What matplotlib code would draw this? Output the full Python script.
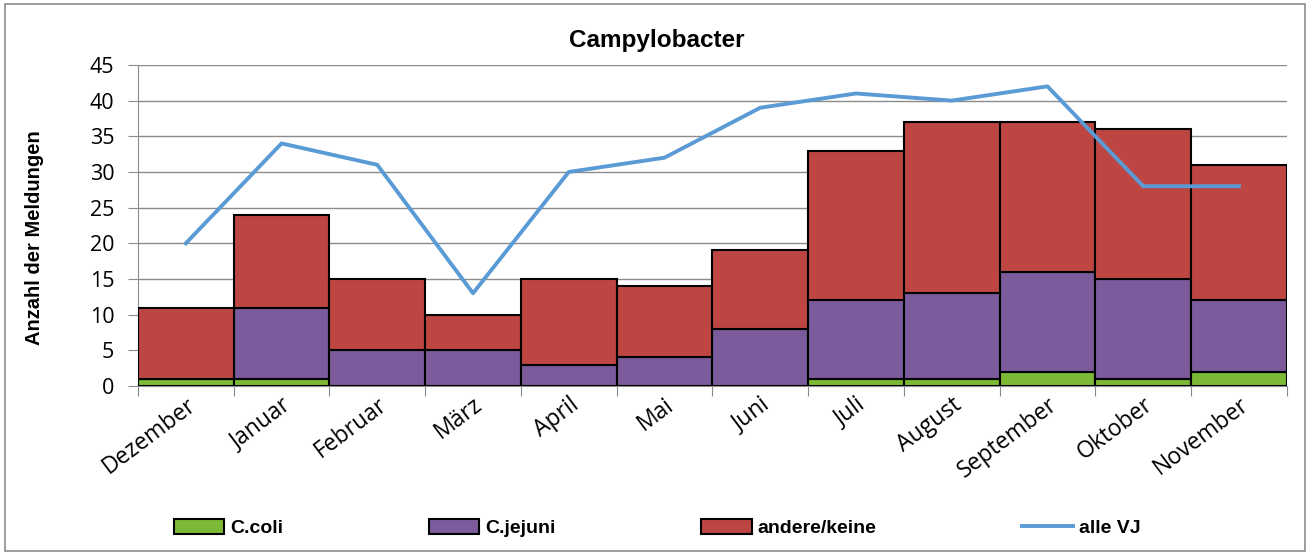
import numpy as np
import matplotlib.pyplot as plt
from matplotlib.patches import Rectangle

months = ['Dezember', 'Januar', 'Februar', 'März', 'April', 'Mai', 'Juni',
          'Juli', 'August', 'September', 'Oktober', 'November']
coli = [1, 1, 0, 0, 0, 0, 0, 1, 1, 2, 1, 2]
jejuni = [0, 10, 5, 5, 3, 4, 8, 11, 12, 14, 14, 10]
andere = [10, 13, 10, 5, 12, 10, 11, 21, 24, 21, 21, 19]
alle_vj = [20, 34, 31, 13, 30, 32, 39, 41, 40, 42, 28, 28]

c_green = '#7CB934'
c_purple = '#7B5B9B'
c_red = '#BD4643'
c_blue = '#5B9BD5'

fig = plt.figure(figsize=(13.1, 5.55), dpi=100)
fig.patches.append(Rectangle((0.004, 0.008), 0.992, 0.984, transform=fig.transFigure,
                             fill=False, edgecolor='#8c8c8c', lw=1.2))
ax = fig.add_axes([0.1053, 0.3045, 0.877, 0.5785])

x = np.arange(len(months))
coli = np.array(coli)
jejuni = np.array(jejuni)
andere = np.array(andere)
b1 = ax.bar(x, coli, width=1.0, color=c_green, edgecolor='black', lw=1.5, zorder=3)
b2 = ax.bar(x, jejuni, width=1.0, bottom=coli, color=c_purple, edgecolor='black', lw=1.5, zorder=3)
b3 = ax.bar(x, andere, width=1.0, bottom=coli + jejuni, color=c_red, edgecolor='black', lw=1.5,
            zorder=3)
l1, = ax.plot(x, alle_vj, color=c_blue, lw=2.8, zorder=4)

ax.set_xlim(-0.5, len(months) - 0.5)
ax.set_ylim(0, 45)
ax.set_yticks(range(0, 46, 5))
ax.yaxis.grid(True, color='#8c8c8c', lw=1, zorder=0)
ax.set_axisbelow(True)
ax.set_xticks(np.arange(-0.5, len(months), 1.0))
ax.set_xticklabels([])
ax.set_xticks(x, minor=True)
ax.set_xticklabels(months, minor=True, rotation=37, ha='right', rotation_mode='anchor',
                   fontsize=16.5, family='Open Sans')
ax.tick_params(axis='x', which='minor', length=0, pad=5)
ax.tick_params(axis='x', which='major', length=7, color='#8c8c8c')
ax.tick_params(axis='y', length=7, color='#8c8c8c', labelsize=15.5, pad=10)
for lab in ax.get_yticklabels():
    lab.set_family('Open Sans')
for s in ['top', 'right']:
    ax.spines[s].set_visible(False)
ax.spines['left'].set_color('#8c8c8c')
ax.spines['bottom'].set_color('#8c8c8c')

fig.text(657 / 1310, 1 - 40 / 555, 'Campylobacter', fontsize=17.5, fontweight='bold',
         family='Liberation Sans', ha='center', va='center')
fig.text(35 / 1310, 1 - 238 / 555, 'Anzahl der Meldungen', fontsize=14.5, fontweight='bold',
         family='Liberation Sans', ha='center', va='center', rotation=90)

fig.legend([b1, b2, b3, l1], ['C.coli', 'C.jejuni', 'andere/keine', 'alle VJ'],
           loc='center', bbox_to_anchor=(657 / 1310, 0.049), ncol=4, frameon=False,
           prop={'family': 'Liberation Sans', 'weight': 'bold', 'size': 14},
           handlelength=2.6, handleheight=0.8, handletextpad=0.3, columnspacing=7.5)

fig.savefig('out.png', dpi=100)
